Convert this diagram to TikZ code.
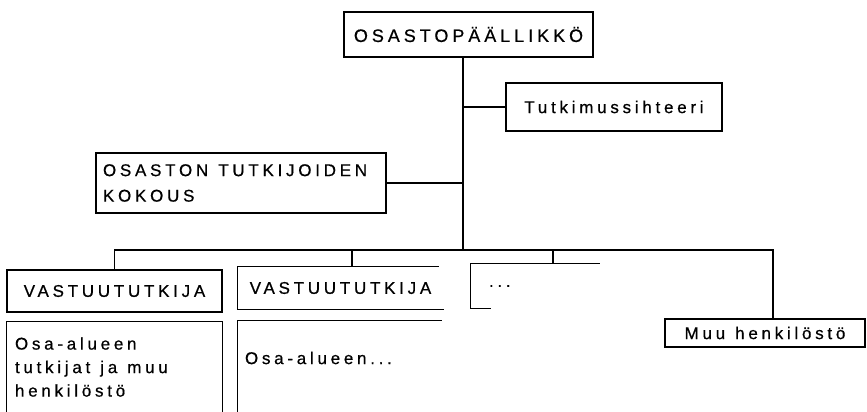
\documentclass[tikz,border=0pt]{standalone}
\usepackage{fontspec}
\setmainfont{Liberation Sans}[LetterSpace=22,FakeBold=0.6]
\newcommand\wsp[1][10pt]{\hspace{#1}}

\begin{document}
\begin{tikzpicture}[x=1pt,y=-1pt,line width=1.2pt,
  every node/.style={font=\fontsize{17}{25}\selectfont,inner sep=0pt},
  box/.style={draw,minimum height=#1},
  openbox/.style={minimum height=#1},
  lines/.style={font=\fontsize{17}{23.5}\selectfont,text width=#1,align=left}]
\useasboundingbox (0,0) rectangle (867,412);
\node[box=45,minimum width=249,font=\fontsize{18}{25}\selectfont] (head) at (468.5,34.5) {OSASTOPÄÄLLIKKÖ};
\node[box=48,minimum width=216] (siht) at (614,107) {Tutkimussihteeri};
\node[box=60,minimum width=290,lines=276,font=\fontsize{17}{25.5}\selectfont] (kokous) at (241,183) {OSASTON\wsp TUTKIJOIDEN\\KOKOUS};
\node[box=42,minimum width=215] (vas1) at (114.5,291) {VASTUUTUTKIJA};
\node[openbox=42,minimum width=205] (vas2) at (340.5,288) {VASTUUTUTKIJA};
\node[openbox=44,minimum width=128,lines=92] (dots) at (535,286) {...};
\node[box=28,minimum width=200] (muu) at (765,333) {Muu\wsp henkilöstö};
\node[openbox=90,minimum width=215,lines=199] (osa1) at (114.5,367) {Osa-alueen\\tutkijat\wsp ja\wsp muu\\henkilöstö};
\node[openbox=74,minimum width=203,lines=189] (osa2) at (339.5,358) {Osa-alueen...};
\coordinate (t) at (463,250);
\draw (head.south -| t) -- (t);
\draw (siht.west) -- (siht.west -| t);
\draw (kokous.east) -- (kokous.east -| t);
\draw (vas1.north) |- (t) -| ([xshift=8pt]muu.north);
\draw ([xshift=11.5pt]vas2.north) -- ([xshift=11.5pt]vas2.north |- t);
\draw ([xshift=18pt]dots.north) -- ([xshift=18pt]dots.north |- t);
%\draw (vas2.north) -- (vas2.north |- t);
\draw ([xshift=-5pt]vas2.north east) -- (vas2.north west) -- (vas2.south west) -- (vas2.south east);
\draw (dots.north east) -- (dots.north west) -- (dots.south west) -- ++(21,0);
\draw (osa1.south west) |- (osa1.north east) -- (osa1.south east);
\draw (osa2.north east) -- (osa2.north west) -- (osa2.west |- osa1.south);
\end{tikzpicture}
\end{document}
